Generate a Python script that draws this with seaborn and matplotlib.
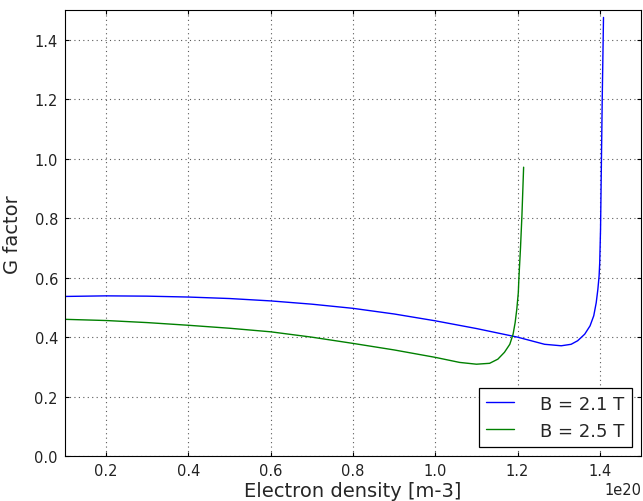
import numpy as np
import pandas as pd
import matplotlib
matplotlib.use('Agg')
import matplotlib.pyplot as plt
import seaborn as sns

# readings, density in units of 1e20 m^-3
dens_21 = [0.10, 0.20, 0.30, 0.40, 0.50, 0.60, 0.70, 0.80, 0.90, 1.00, 1.10, 1.20, 1.23, 1.2655,
           1.306, 1.330, 1.346, 1.363, 1.376, 1.385, 1.391, 1.395, 1.398, 1.3995, 1.4015, 1.4056, 1.4087]
g_21 = [0.537, 0.539, 0.538, 0.535, 0.530, 0.522, 0.511, 0.497, 0.478, 0.455, 0.429, 0.400, 0.389, 0.376,
        0.371, 0.376, 0.388, 0.410, 0.438, 0.472, 0.516, 0.561, 0.606, 0.65, 0.763, 1.2, 1.476]

dens_25 = [0.10, 0.20, 0.30, 0.40, 0.50, 0.60, 0.70, 0.80, 0.90, 1.00, 1.059, 1.100, 1.132, 1.152,
           1.168, 1.181, 1.189, 1.194, 1.198, 1.2017, 1.203, 1.207, 1.2105, 1.2146]
g_25 = [0.460, 0.456, 0.449, 0.440, 0.430, 0.418, 0.400, 0.379, 0.357, 0.332, 0.315, 0.309, 0.312, 0.326,
        0.349, 0.376, 0.410, 0.449, 0.494, 0.55, 0.595, 0.70, 0.81, 0.972]

labels = ['B = 2.1 T', 'B = 2.5 T']

df = pd.concat([
    pd.DataFrame({'n': np.array(dens_21) * 1e20, 'G': g_21, 'B': labels[0]}),
    pd.DataFrame({'n': np.array(dens_25) * 1e20, 'G': g_25, 'B': labels[1]}),
])

sns.set_style('white', rc={
    'xtick.direction': 'in', 'ytick.direction': 'in',
    'xtick.top': True, 'ytick.right': True,
    'xtick.bottom': True, 'ytick.left': True,
    'axes.edgecolor': 'black', 'axes.linewidth': 0.9,
    'grid.color': '0.35', 'grid.linestyle': (0, (1, 3)), 'grid.linewidth': 0.8,
})
plt.rcParams['font.family'] = ['DejaVu Sans']
plt.rcParams['xtick.major.size'] = 3.2
plt.rcParams['ytick.major.size'] = 3.2
plt.rcParams['xtick.major.pad'] = 5
plt.rcParams['ytick.major.pad'] = 5

fig, ax = plt.subplots(figsize=(6.43, 5.02), dpi=100)
fig.subplots_adjust(left=0.101, right=0.997, bottom=0.0896, top=0.9775)

sns.lineplot(data=df, x='n', y='G', hue='B', palette=['#0000ff', '#008000'],
             sort=False, estimator=None, linewidth=1.0, ax=ax)

ax.set_xlim(0.1e20, 1.5e20)
ax.set_ylim(0, 1.5)
ax.set_xticks(np.arange(0.2, 1.41, 0.2) * 1e20)
ax.set_yticks(np.arange(0, 1.41, 0.2))
ax.tick_params(labelsize=10.5, colors='black', labelcolor='#222222')
ax.xaxis.get_offset_text().set_fontsize(10.5)
ax.grid(True)

ax.set_xlabel('Electron density [m-3]', fontsize=14, labelpad=2)
ax.set_ylabel('G factor', fontsize=14, labelpad=9)

ax.legend(loc='lower right', fontsize=13, frameon=True, fancybox=False,
          edgecolor='black', framealpha=1, handlelength=1.55, handletextpad=1.45,
          borderpad=0.4, labelspacing=0.5, borderaxespad=0.5)
ax.get_legend().get_frame().set_linewidth(0.9)

fig.savefig('out.png', dpi=100)
